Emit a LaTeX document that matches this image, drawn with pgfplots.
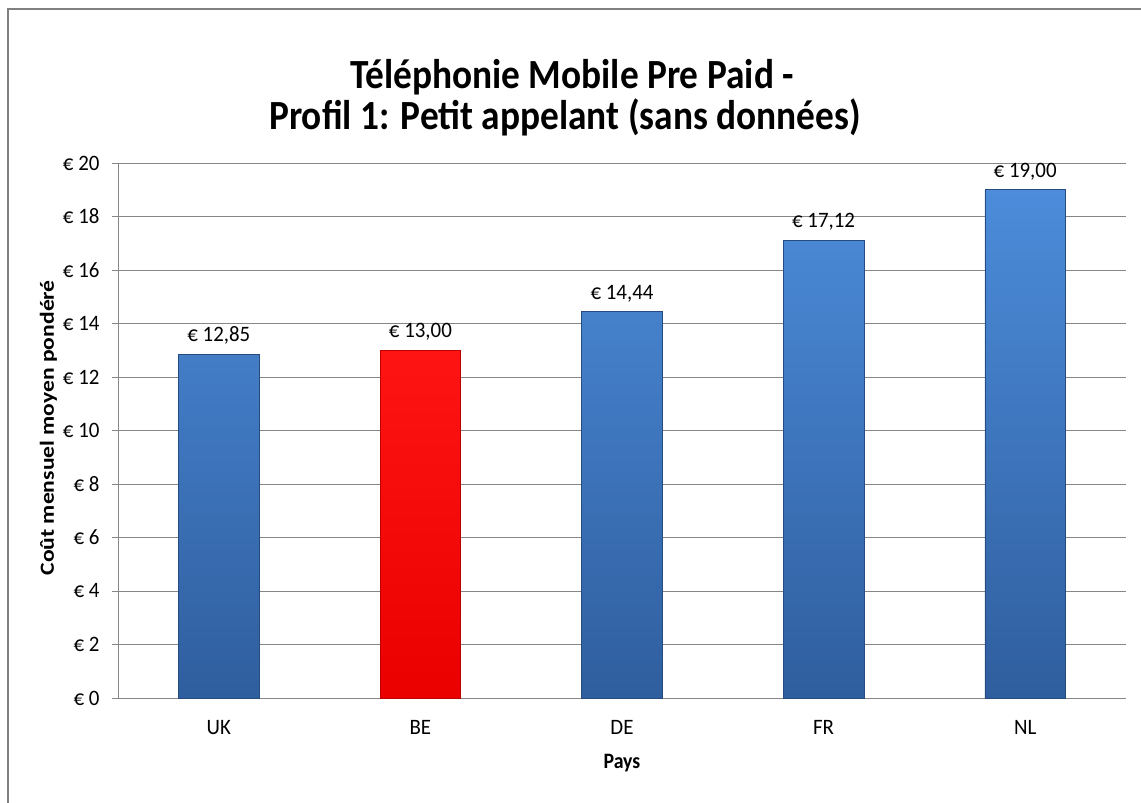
\documentclass[border=0pt]{standalone}
\usepackage{pgfplots}
\pgfplotsset{compat=1.18}
\usepackage{fontspec}
\setmainfont{Carlito}
\newfontfamily\titlefont[FakeStretch=0.9]{Carlito}
\newfontfamily\tickfont[FakeStretch=0.95]{Carlito}
\newfontfamily\ylabfont[FakeStretch=1.18]{Carlito}
\definecolor{gridgray}{RGB}{134,134,134}
\definecolor{bordergray}{RGB}{128,128,128}
\definecolor{bluetop}{RGB}{76,140,218}
\definecolor{bluebot}{RGB}{47,94,158}
\definecolor{redtop}{RGB}{255,20,20}
\definecolor{redbot}{RGB}{235,0,0}
\begin{document}
\begin{tikzpicture}[x=1bp,y=1bp]
\useasboundingbox (0,0) rectangle (1141,803);
\draw[bordergray, line width=2bp] (8,0) -- (8,794) -- (1141,794);
\node[anchor=base, inner sep=0pt, font=\titlefont\fontsize{41.5bp}{48bp}\selectfont\bfseries] at (572,714) {Téléphonie Mobile Pre Paid -};
\node[anchor=base, inner sep=0pt, font=\titlefont\fontsize{41.5bp}{48bp}\selectfont\bfseries] at (565,673) {Profil 1: Petit appelant (sans données)};
\begin{axis}[
  at={(118bp,105bp)}, anchor=south west,
  scale only axis, width=1008bp, height=535bp,
  xmin=-0.5, xmax=4.5, ymin=0, ymax=20,
  axis x line*=bottom, axis y line*=left,
  axis line style={gridgray, line width=0.8bp},
  /pgf/number format/assume math mode=true,
  ytick={0,2,...,20},
  yticklabel={€ \pgfmathprintnumber{\tick}},
  ymajorgrids, major grid style={gridgray, line width=0.8bp},
  ytick style={gridgray, line width=0.8bp},
  major tick length=6bp, tick align=outside,
  xtick={0,1,2,3,4},
  xticklabels={UK,BE,DE,FR,NL},
  minor xtick={-0.5,0.5,1.5,2.5,3.5,4.5},
  xtick style={draw=none},
  minor tick style={draw=gridgray, line width=0.8bp},
  minor tick length=6bp,
  ticklabel style={font=\tickfont\fontsize{22bp}{26bp}\selectfont},
  xticklabel style={yshift=-13bp},
  yticklabel style={xshift=-9bp},
  xlabel={Pays}, ylabel={Coût mensuel moyen pondéré},
  every axis x label/.style={at={(axis description cs:0.5,-0.121)}, anchor=center,
     font=\titlefont\fontsize{22bp}{26bp}\selectfont\bfseries},
  every axis y label/.style={at={(axis description cs:-0.069,0.505)}, anchor=center, rotate=90,
     font=\ylabfont\fontsize{20bp}{24bp}\selectfont\bfseries},
  ybar, bar width=0.4,
  nodes near coords={€ \pgfmathprintnumber[fixed,fixed zerofill,precision=2,use comma]{\pgfplotspointmeta}},
  nodes near coords style={font=\tickfont\fontsize{22bp}{26bp}\selectfont, anchor=south, yshift=6bp, text=black},
  clip=false,
]
\addplot[bar shift=0, draw=bluebot!80!black, line width=0.6bp, top color=bluetop, bottom color=bluebot]
  coordinates {(0,12.85) (2,14.44) (3,17.12) (4,19.00)};
\addplot[bar shift=0, draw=redbot!80!black, line width=0.6bp, top color=redtop, bottom color=redbot]
  coordinates {(1,13.00)};
\end{axis}
\end{tikzpicture}
\end{document}
